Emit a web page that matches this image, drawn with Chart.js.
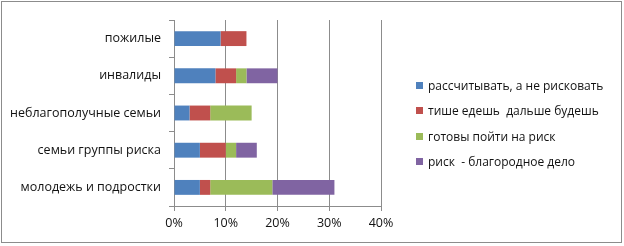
<!DOCTYPE html>
<html><head><meta charset="utf-8">
<script src="https://cdn.jsdelivr.net/npm/chart.js@4"></script>
<style>
html,body{margin:0;padding:0;background:#fff;}
#wrap{position:relative;width:624px;height:246px;}
#frame{position:absolute;left:1px;top:1px;width:619px;height:240px;border:1px solid #8c8c8c;pointer-events:none;}
#legend{position:absolute;left:416px;top:78px;font:12px "Open Sans",sans-serif;color:#111;}
.li{height:25.3px;line-height:16px;white-space:nowrap;}
.sw{display:inline-block;width:7px;height:7px;margin-right:5px;vertical-align:1px;}
</style></head>
<body><div id="wrap"><canvas id="c" width="624" height="246"></canvas><div id="frame"></div><div id="legend"></div></div>
<script>
const categories = ["пожилые","инвалиды","неблагополучные семьи","семьи группы риска","молодежь и подростки"];
const seriesNames = ["рассчитывать, а не рисковать","тише едешь  дальше будешь","готовы пойти на риск","риск  - благородное дело"];
const s1 = [9, 8, 3, 5, 5];
const s2 = [5, 4, 4, 5, 2];
const s3 = [0, 2, 8, 2, 12];
const s4 = [0, 6, 0, 4, 12];
const xTicks = [0, 10, 20, 30, 40];
const colors = ["#4F81BD","#C0504D","#9BBB59","#8064A2"];
const series = [s1,s2,s3,s4];

const leg = document.getElementById('legend');
seriesNames.forEach((n,i)=>{
  const d=document.createElement('div');d.className='li';
  d.innerHTML='<span class="sw" style="background:'+colors[i]+'"></span>'+n.replace(/  /g,' &nbsp;');
  leg.appendChild(d);
});

new Chart(document.getElementById('c'), {
  type:'bar',
  data:{labels:categories,datasets:series.map((s,i)=>({label:seriesNames[i],data:s,backgroundColor:colors[i],borderWidth:0,barPercentage:0.8,categoryPercentage:0.5}))},
  options:{
    indexAxis:'y',responsive:false,animation:false,
    layout:{padding:{left:0,top:20,right:243,bottom:10}},
    plugins:{legend:{display:false},tooltip:{enabled:false}},
    scales:{
      x:{stacked:true,min:0,max:40,
        afterFit:s=>{s.height=30;},
        afterBuildTicks:s=>{s.ticks=xTicks.map(v=>({value:v}));},
        ticks:{callback:v=>v+'%',font:{family:'Open Sans',size:12.5},color:'#111',padding:5},
        grid:{color:'#8c8c8c',lineWidth:1,tickLength:5},
        border:{color:'#8c8c8c'}},
      y:{stacked:true,
        afterFit:s=>{s.width=174;},
        ticks:{font:{family:'Open Sans',size:12.5},color:'#111',padding:8},
        grid:{offset:true,drawOnChartArea:false,color:'#8c8c8c',tickLength:5},
        border:{color:'#8c8c8c'}}
    }
  }
});
</script></body></html>
